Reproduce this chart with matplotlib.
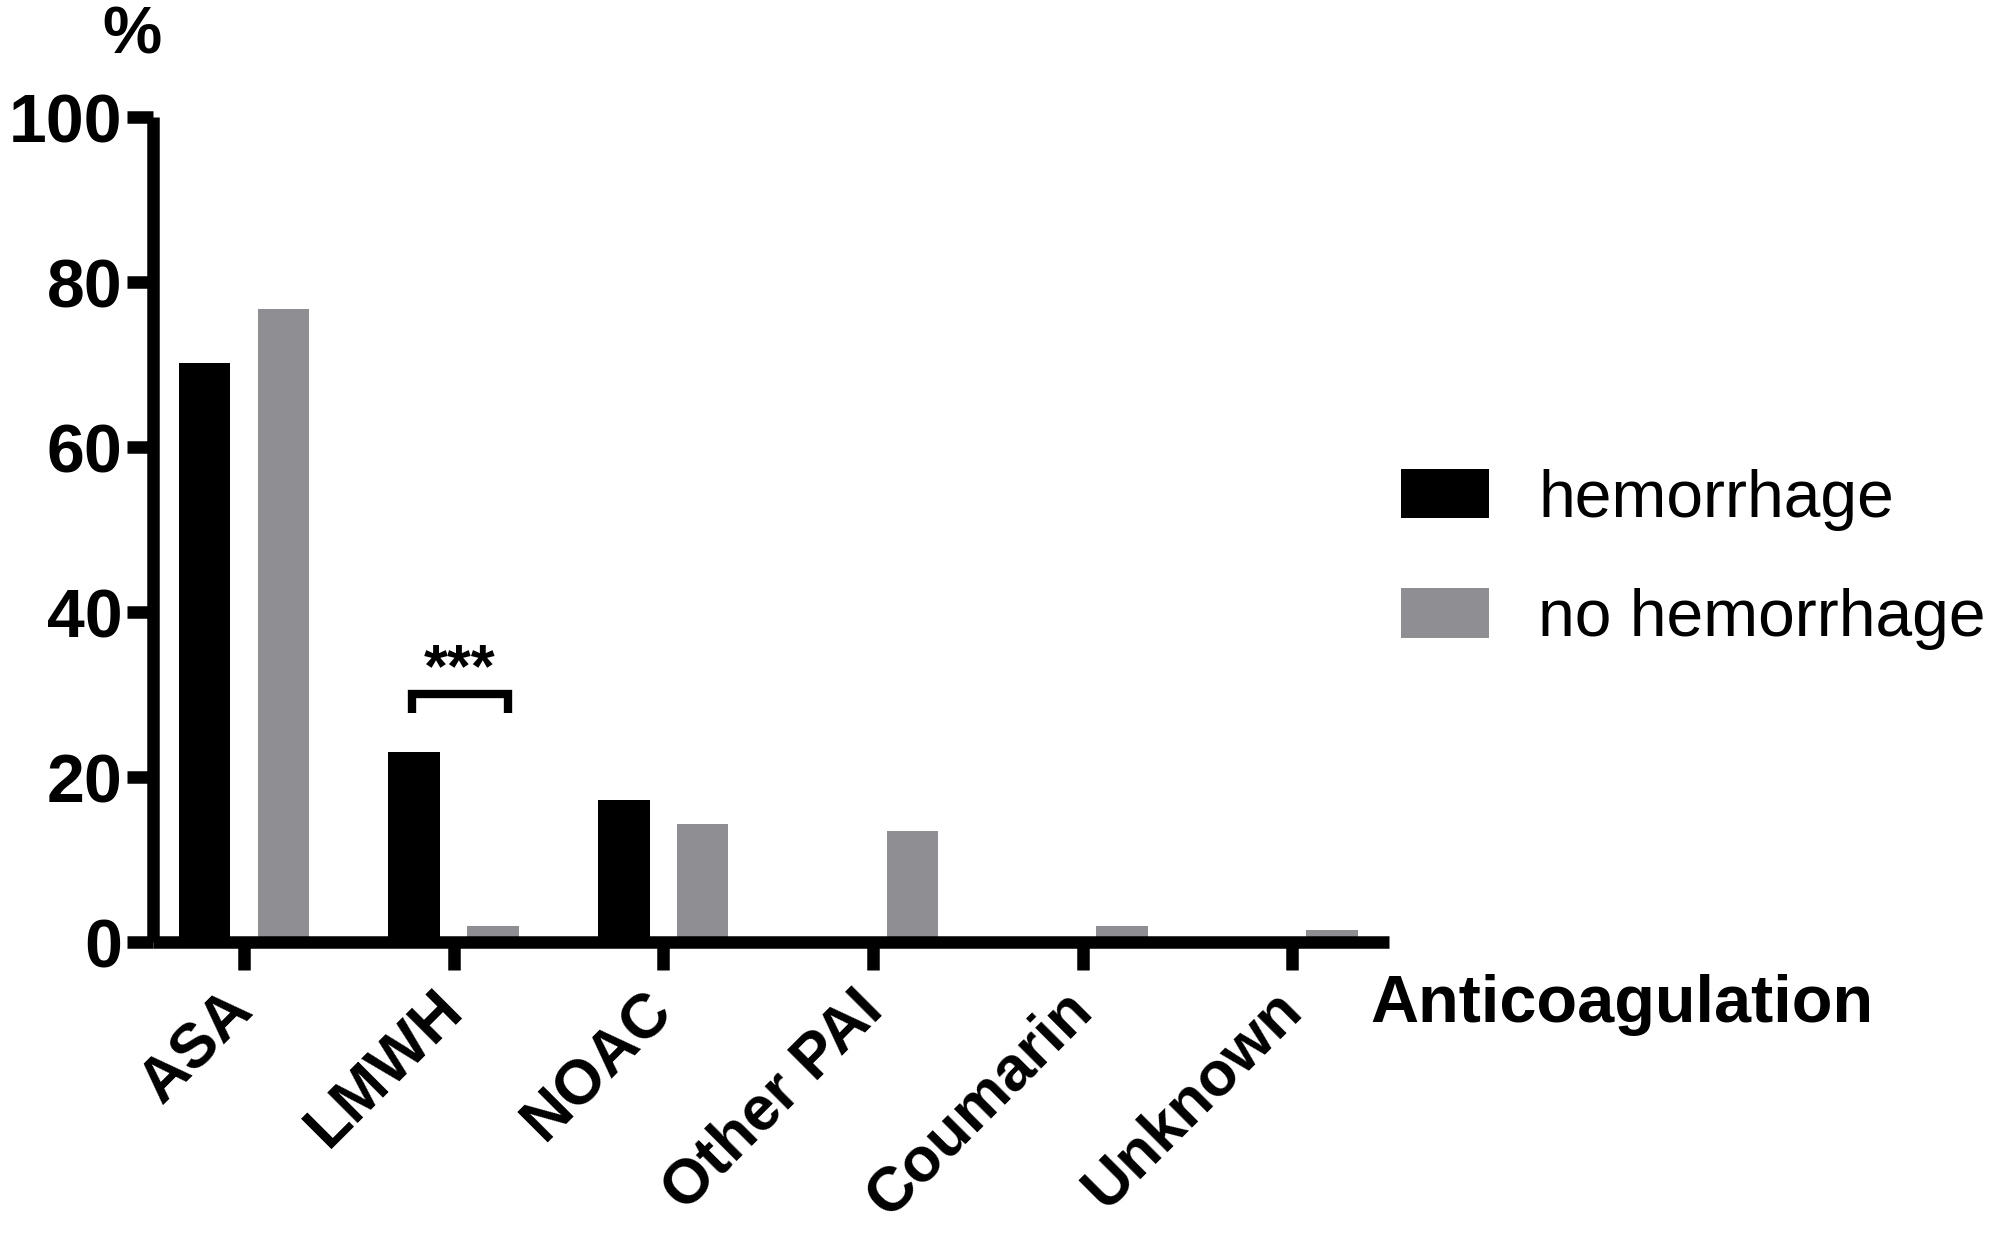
import matplotlib
matplotlib.use("Agg")
import matplotlib.pyplot as plt
import numpy as np

categories = ["ASA", "LMWH", "NOAC", "Other PAI", "Coumarin", "Unknown"]
hemorrhage = [70.2, 23.0, 17.2, 0.0, 0.0, 0.0]
no_hemorrhage = [76.8, 1.9, 14.3, 13.4, 1.9, 1.4]
series_names = ["hemorrhage", "no hemorrhage"]
yticks = [0, 20, 40, 60, 80, 100]

plt.rcParams['font.family'] = ['Liberation Sans', 'DejaVu Sans']

fig = plt.figure(figsize=(19.95, 12.33), dpi=100)
ax = fig.add_axes([0.0767, 0.236, 0.6195, 0.669])

x = np.arange(len(categories))
w = 0.245
off = 0.188
ax.bar(x - off, hemorrhage, width=w, color="black", label=series_names[0])
ax.bar(x + off, no_hemorrhage, width=w, color="#8e8e93", label=series_names[1])

ax.set_xlim(-0.433, 5.46)
ax.set_ylim(0, 100)
for s in ["top", "right"]:
    ax.spines[s].set_visible(False)
for s in ["left", "bottom"]:
    ax.spines[s].set_linewidth(9)
    ax.spines[s].set_capstyle("butt")

ax.set_yticks(yticks)
ax.set_yticklabels([str(v) for v in yticks], fontsize=49, fontweight="bold")
ax.tick_params(axis="y", length=19, width=9, pad=3)
ax.set_xticks(x)
ax.set_xticklabels(categories, fontsize=45, fontweight="bold", rotation=45,
                   ha="right", va="center", rotation_mode="anchor")
ax.tick_params(axis="x", length=20, width=9, pad=22)

# percent label
fig.text(0.066, 0.970, "%", fontsize=48, fontweight="bold", ha="center", va="center")
# x axis title
fig.text(0.687, 0.185, "Anticoagulation", fontsize=48, fontweight="bold",
         ha="left", va="center")

# significance bracket
i = 1
xl, xr = x[i] - off - 0.01, x[i] + off + 0.07
ax.plot([xl, xl, xr, xr], [27.8, 30.1, 30.1, 27.8], color="black", lw=6,
        solid_capstyle="butt", solid_joinstyle="miter", clip_on=False)
ax.text((xl + xr) / 2, 29.4, "***", fontsize=44, fontweight="bold",
        ha="center", va="bottom")

leg = ax.legend(loc="center left", bbox_to_anchor=(0.7025, 0.5464), bbox_transform=fig.transFigure,
                frameon=False, fontsize=47.5, handlelength=1.32, handleheight=0.77,
                handletextpad=0.75, labelspacing=0.87, borderpad=0, borderaxespad=0)

fig.savefig("out.png", dpi=100)
